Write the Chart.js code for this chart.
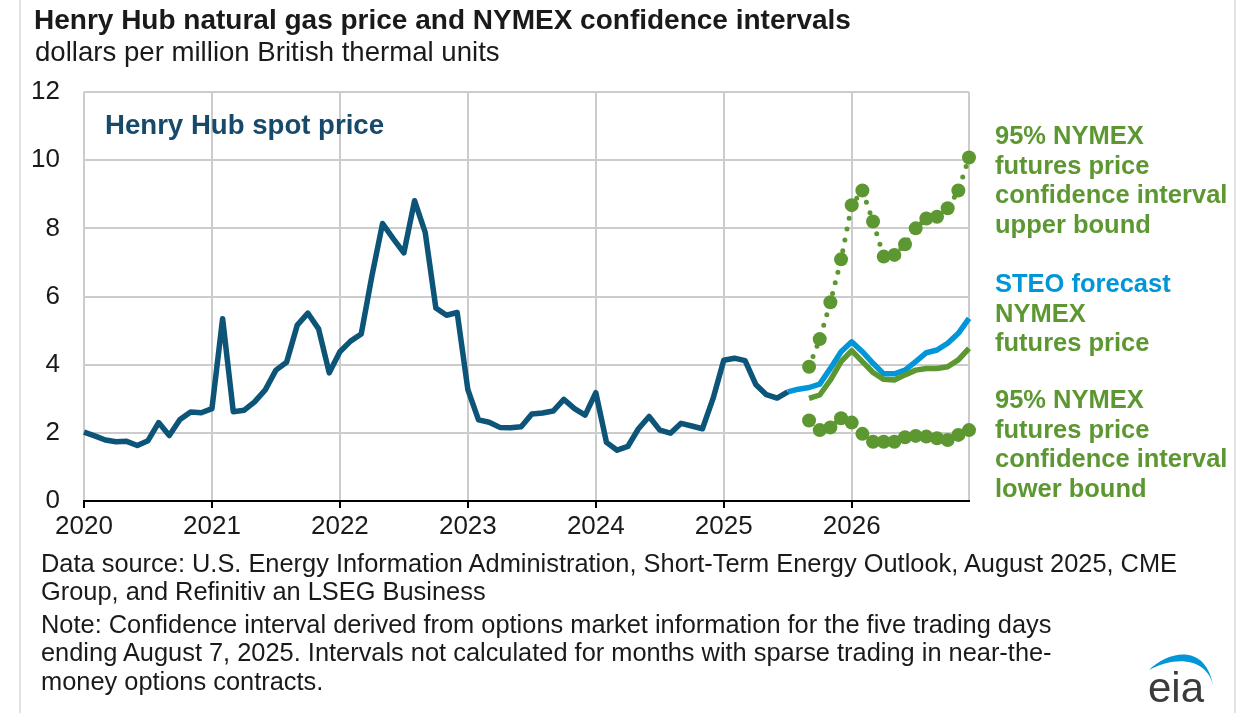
<!DOCTYPE html>
<html>
<head>
<meta charset="utf-8">
<script src="https://cdn.jsdelivr.net/npm/chart.js@4.4.1/dist/chart.umd.min.js"></script>
<style>
  html, body { margin: 0; padding: 0; background: #fff; }
  #wrap { position: relative; width: 1247px; height: 713px; overflow: hidden; font-family: "Liberation Sans", Arial, sans-serif; }
  #frame { position: absolute; left: 19px; top: 0; width: 1213px; height: 713px; border-left: 2px solid #e3e3e3; border-right: 2px solid #e3e3e3; }
  canvas { position: absolute; left: 0; top: 0; }
  .txt { position: absolute; white-space: nowrap; color: #1a1a1a; }
  .title { left: 34px; top: 5px; font-size: 28px; font-weight: bold; line-height: 30px; }
  .sub { left: 35px; top: 37px; font-size: 27.6px; line-height: 30px; }
  .note { left: 41px; font-size: 25.4px; line-height: 28px; }
  .lab { font-weight: bold; font-size: 25.5px; line-height: 29.5px; color: #5d9732; left: 995px; }
  .hh { left: 105px; top: 110px; font-weight: bold; font-size: 27.6px; line-height: 30px; color: #17496b; }
  .steo { color: #0096d7; }
  #logo { position: absolute; left: 1140px; top: 645px; width: 90px; height: 65px; }
</style>
</head>
<body>
<div id="wrap">
  <div id="frame"></div>
  <canvas id="chart" width="1247" height="713"></canvas>
  <div class="txt title">Henry Hub natural gas price and NYMEX confidence intervals</div>
  <div class="txt sub">dollars per million British thermal units</div>
  <div class="txt hh">Henry Hub spot price</div>
  <div class="txt lab" style="top:121px">95% NYMEX<br>futures price<br>confidence interval<br>upper bound</div>
  <div class="txt lab" style="top:269px"><span class="steo">STEO forecast</span><br>NYMEX<br>futures price</div>
  <div class="txt lab" style="top:385px">95% NYMEX<br>futures price<br>confidence interval<br>lower bound</div>
  <div class="txt note" style="top:549px">Data source: U.S. Energy Information Administration, Short-Term Energy Outlook, August 2025, CME</div>
  <div class="txt note" style="top:577px">Group, and Refinitiv an LSEG Business</div>
  <div class="txt note" style="top:610px">Note: Confidence interval derived from options market information for the five trading days</div>
  <div class="txt note" style="top:638px">ending August 7, 2025. Intervals not calculated for months with sparse trading in near-the-</div>
  <div class="txt note" style="top:667px">money options contracts.</div>
  <svg id="logo" viewBox="0 0 90 65">
    <path d="M9 25 C 28 6, 68 -4, 74 46 C 71 14, 38 9, 9 25 Z" fill="#0096d7"/>
    <text x="8" y="57" font-family="Liberation Sans, Arial, sans-serif" font-size="42" fill="#3b3b3b">eia</text>
  </svg>
</div>
<script>
// monthly categories Jan 2020 .. Dec 2026
const years = [2020, 2021, 2022, 2023, 2024, 2025, 2026];
const months = [];
years.forEach(y => { for (let m = 1; m <= 12; m++) months.push(y + '-' + m); });

// Henry Hub spot price, Jan 2020 .. Jul 2025
const henryHub = [
  2.02, 1.91, 1.79, 1.74, 1.75, 1.63, 1.77, 2.30, 1.92, 2.39, 2.61, 2.59,
  2.71, 5.35, 2.62, 2.66, 2.91, 3.26, 3.84, 4.07, 5.16, 5.51, 5.05, 3.76,
  4.38, 4.69, 4.90, 6.60, 8.14, 7.70, 7.28, 8.81, 7.88, 5.66, 5.45, 5.53,
  3.27, 2.38, 2.31, 2.16, 2.15, 2.18, 2.55, 2.58, 2.64, 2.98, 2.71, 2.52,
  3.18, 1.72, 1.49, 1.60, 2.12, 2.48, 2.08, 1.99, 2.28, 2.20, 2.12, 3.01,
  4.13, 4.19, 4.12, 3.42, 3.12, 3.02, 3.20
];
// STEO forecast, Jul 2025 .. Dec 2026
const steoStart = 66;
const steoForecast = [3.20, 3.28, 3.33, 3.43, 3.89, 4.38, 4.67, 4.38, 4.04, 3.73, 3.73, 3.84, 4.09, 4.35, 4.43, 4.63, 4.92, 5.36];
// NYMEX futures and 95% bounds, Sep 2025 .. Dec 2026
const nymexStart = 68;
const nymexFutures = [3.01, 3.11, 3.55, 4.09, 4.41, 4.09, 3.77, 3.57, 3.55, 3.70, 3.84, 3.89, 3.89, 3.94, 4.14, 4.48];
const upperBound = [3.94, 4.75, 5.83, 7.09, 8.68, 9.11, 8.20, 7.17, 7.22, 7.53, 8.00, 8.29, 8.34, 8.59, 9.11, 10.08];
const lowerBound = [2.36, 2.08, 2.16, 2.43, 2.30, 1.97, 1.74, 1.74, 1.74, 1.87, 1.91, 1.89, 1.84, 1.79, 1.94, 2.08];
const yTicks = [0, 2, 4, 6, 8, 10, 12];

const DARK = '#0c5478', BLUE = '#0096d7', GREEN = '#5d9732', GRID = '#cccccc';

function pad(start, arr) {
  const out = new Array(months.length).fill(null);
  arr.forEach((v, i) => { out[start + i] = v; });
  return out;
}

function lineSet(data, color, order) {
  return {
    data, borderColor: color, borderWidth: 5.5, pointRadius: 0,
    borderJoinStyle: 'round', borderCapStyle: 'butt', tension: 0, order
  };
}

function boundSet(data) {
  return {
    data, borderColor: GREEN, borderWidth: 5, borderDash: [0, 11], borderCapStyle: 'round',
    pointRadius: 7, pointBackgroundColor: GREEN, pointBorderWidth: 0, pointHoverRadius: 0,
    tension: 0, order: 4
  };
}

new Chart(document.getElementById('chart'), {
  type: 'line',
  data: {
    labels: months,
    datasets: [
      lineSet(pad(0, henryHub), DARK, 1),
      lineSet(pad(nymexStart, nymexFutures), GREEN, 2),
      lineSet(pad(steoStart, steoForecast), BLUE, 3),
      boundSet(pad(nymexStart, upperBound)),
      boundSet(pad(nymexStart, lowerBound))
    ]
  },
  options: {
    responsive: false,
    animation: false,
    devicePixelRatio: 1,
    layout: { padding: { left: 0, right: 278, top: 92, bottom: 167 } },
    plugins: { legend: { display: false }, tooltip: { enabled: false } },
    events: [],
    scales: {
      x: {
        type: 'category',
        offset: false,
        afterFit: s => { s.height = 45; },
        border: { display: true, color: '#000', width: 2 },
        grid: {
          lineWidth: 2,
          tickLength: 7,
          tickWidth: 2,
          color: c => (c.index % 12 === 0 || c.index === months.length - 1) ? GRID : 'rgba(0,0,0,0)',
          tickColor: c => c.index % 12 === 0 ? '#000' : 'rgba(0,0,0,0)'
        },
        ticks: {
          autoSkip: false, maxRotation: 0, padding: 3,
          color: '#1a1a1a',
          font: { family: 'Liberation Sans', size: 26 },
          callback: (v, i) => i % 12 === 0 ? String(years[i / 12]) : ''
        }
      },
      y: {
        min: yTicks[0], max: yTicks[yTicks.length - 1],
        afterFit: s => { s.width = 84; },
        afterBuildTicks: s => { s.ticks = yTicks.map(v => ({ value: v })); },
        border: { display: false },
        grid: { color: GRID, lineWidth: 2, drawTicks: false },
        ticks: { padding: 24, color: '#1a1a1a', font: { family: 'Liberation Sans', size: 26 } }
      }
    }
  }
});
</script>
</body>
</html>
